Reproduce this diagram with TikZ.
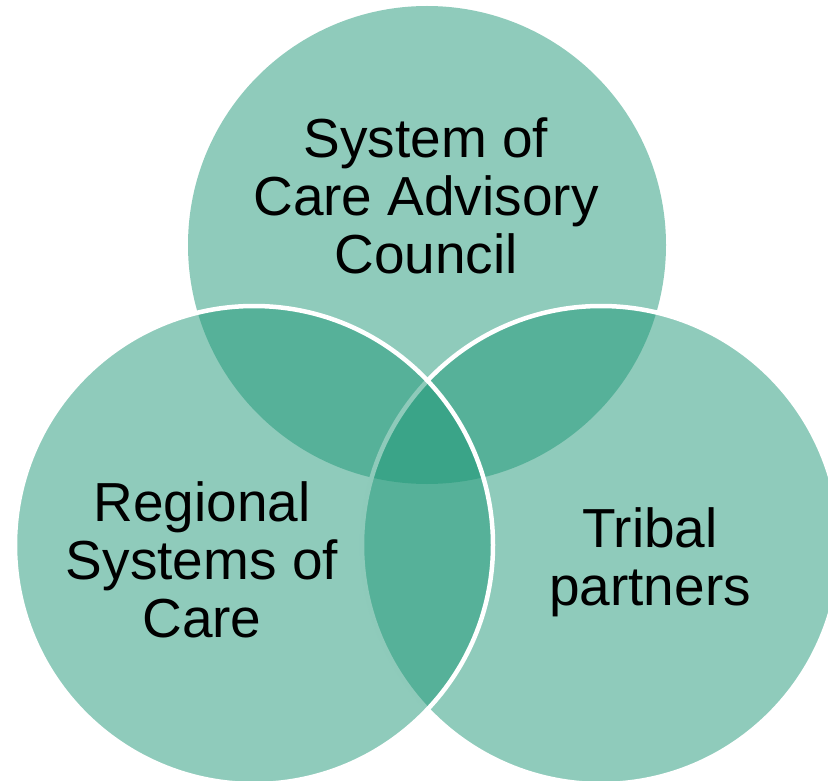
\documentclass[tikz,border=0pt]{standalone}
\usepackage{fontspec}
\setmainfont{Liberation Sans}
\definecolor{VennTeal}{RGB}{31,151,119}
\usetikzlibrary{positioning}

\begin{document}
\begin{tikzpicture}[
  x=1pt, y=-1pt,
  disc/.style={circle, minimum size=478pt, inner sep=0pt, fill=VennTeal, fill opacity=0.5},
  rim/.style={draw=white, line width=4.5pt},
  lbl/.style={align=center, font=\fontsize{55}{58}\selectfont, text=black},
]
  \useasboundingbox (0,0) rectangle (828,781);
  \clip (0,0) rectangle (828,781);

  % circles: top first, then right, then left on top
  \node[disc]      (council)  at (427,245) {};
  \node[disc, rim] (tribal)   at (601,545) {};
  \node[disc, rim] (regional) at (254,545) {};

  \node[lbl] (councilText)  at (426,196) {System of\\Care Advisory\\Council};
  \node[lbl] (regionalText) at (202,560) {Regional\\Systems of\\Care};
  \node[lbl] (tribalText)   at (650,562) {Tribal\\partners};
\end{tikzpicture}
\end{document}
